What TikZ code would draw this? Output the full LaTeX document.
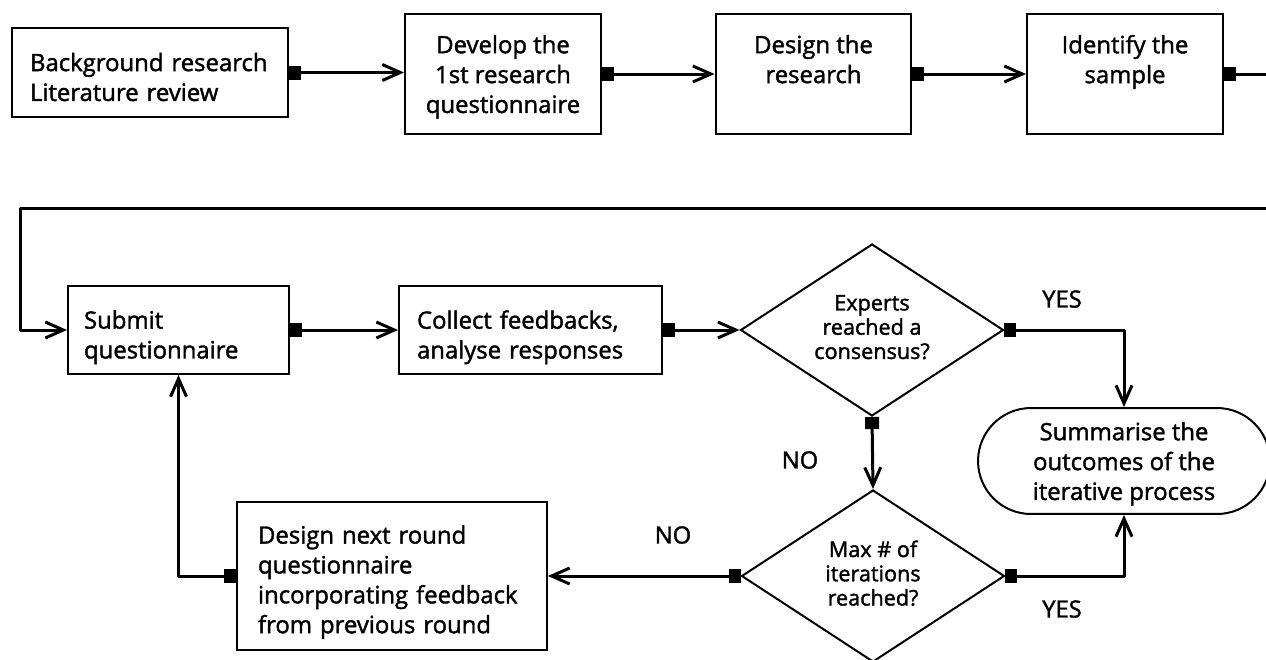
\documentclass[tikz,border=0pt]{standalone}
\usepackage{fontspec}
\setmainfont{Open Sans}[FakeBold=1.6]
\usetikzlibrary{arrows.meta,shapes.geometric}
\begin{document}
\begin{tikzpicture}[x=0.02cm,y=-0.02cm,
  txt/.style={font=\fontsize{13.6}{17}\selectfont},
  box/.style={draw,line width=0.04cm,txt,inner sep=0pt},
  lbox/.style={box,align=left},
  cbox/.style={box,align=center,minimum width=3.92cm,minimum height=2.4cm,text depth=-0.16cm},
  decision/.style={draw,line width=0.04cm,diamond,aspect=1.53,inner sep=0pt,minimum width=5.26cm,minimum height=3.44cm,align=center,font=\fontsize{12.3}{13.8}\selectfont,text depth=0.12cm},
  term/.style={draw,line width=0.04cm,rounded corners=1.06cm,minimum width=5.84cm,minimum height=2.12cm,align=center,txt,text depth=-0.16cm},
  conn/.style={line width=0.06cm,line join=round,{Square[length=0.24cm,width=0.28cm]}-{Straight Barb[length=0.36cm,width=0.32cm]}},
  lab/.style={font=\fontsize{13.5}{15}\selectfont}]
\useasboundingbox (0,0) rectangle (1266,659);
% top row
\node[lbox,text width=4.8cm,inner xsep=0.36cm,minimum height=1.78cm,text depth=0.42cm] (A) at (150,72.5) {Background research\\Literature review};
\node[cbox] (B) at (503,74) {Develop the\\1st research\\questionnaire};
\node[cbox] (C) at (813.5,74) {Design the\\research\\\strut};
\node[cbox] (D) at (1125,74) {Identify the\\sample\\\strut};
% second row
\node[lbox,text width=3.78cm,inner xsep=0.32cm,minimum height=1.76cm,text depth=0.42cm] (E) at (178.5,330) {Submit\\questionnaire};
\node[lbox,text width=4.54cm,inner xsep=0.36cm,minimum height=1.76cm,text depth=0.42cm] (F) at (530.5,330) {Collect feedbacks,\\analyse responses};
\node[decision] (G) at (872,330) {Experts\\reached a\\consensus?};
\node[term] (I) at (1124,461) {Summarise the\\outcomes of the\\iterative process};
\node[decision] (H) at (873,576) {Max \# of\\iterations\\reached?};
\node[lbox,text width=5.36cm,inner xsep=0.42cm,minimum height=2.98cm,text depth=1.66cm] (J) at (392,576) {Design next round\\questionnaire\\incorporating feedback\\from previous round};
% loop coordinates
\coordinate (r1) at (1300,74);
\coordinate (r2) at (1300,208);
\coordinate (l1) at (20,208);
% connectors
\draw[conn] (A.east) -- (A.east -| B.west);
\draw[conn] (B.east) -- (C.west);
\draw[conn] (C.east) -- (D.west);
\draw[conn] (D.east) -- (r1) -- (r2) -- (l1) |- (E.west);
\draw[conn] (E.east) -- (F.west);
\draw[conn] (F.east) -- (G.west);
\draw[conn] (G.east) -| (I.north);
\draw[conn] (G.south) -- (H.north);
\draw[conn] (H.east) -| (I.south);
\draw[conn] (H.west) -- (J.east);
\draw[conn] (J.west) -| (E.south);
% labels
\node[lab] (yes1) at (1062,299) {YES};
\node[lab] (no1) at (800,460) {NO};
\node[lab] (yes2) at (1062,609) {YES};
\node[lab] (no2) at (673,535) {NO};
\end{tikzpicture}
\end{document}
